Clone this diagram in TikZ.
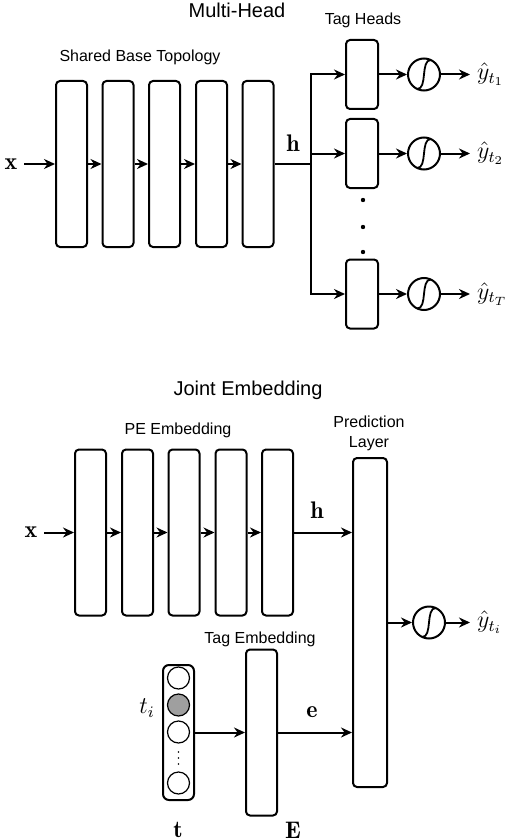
\documentclass[tikz,border=0pt]{standalone}
\usepackage{fontspec}
\newfontfamily\labelfont{Liberation Sans}
\usepackage{amsmath, amssymb}
\usepackage{tikz}
\usetikzlibrary{
  positioning,
  arrows.meta
}
\tikzset{
  layer/.style={draw, line width=1pt, rounded corners=2pt,
    minimum width=15.5pt, minimum height=83pt, inner sep=0pt},
  headbox/.style={layer, minimum width=16pt, minimum height=34.5pt},
  sigmoid/.style={circle, draw, line width=1pt, minimum size=16pt, inner sep=0pt,
    path picture={\draw[line width=0.9pt]
      ([xshift=-3.5pt,yshift=-7.3pt]path picture bounding box.center)
      .. controls +(5.5pt,0pt) and +(-5.5pt,0pt) ..
      ([xshift=3.5pt,yshift=7.3pt]path picture bounding box.center);}},
  conn/.style={line width=1pt, -{Stealth[length=5.5pt,width=5pt]}},
  paneltitle/.style={font=\labelfont\fontsize{10}{12}\selectfont},
  blocklabel/.style={font=\labelfont\fontsize{8}{10}\selectfont, align=center},
  onehot/.style={circle, draw, line width=0.6pt, minimum size=11pt, inner sep=0pt}
}

\begin{document}
\begin{tikzpicture}[x=0.5pt,y=-0.5pt]
  \useasboundingbox (0,0) rectangle (506,840);

  % Multi-Head 部分
  \node[paneltitle] (mhtitle) at (237,10) {Multi-Head};
  \node[blocklabel] (sbtlabel) at (140,57) {Shared Base Topology};
  \node[blocklabel] (thlabel) at (363,20) {Tag Heads};
  % 共享层
  \node[layer] (b1) at (71.5,164) {};
  \node[layer] (b2) at (118,164) {};
  \node[layer] (b3) at (164.5,164) {};
  \node[layer] (b4) at (211.5,164) {};
  \node[layer] (b5) at (258,164) {};
  \node (xa) at (11,164) {\large$\mathbf{x}$};
  \draw[conn] (xa) -- (b1);
  \draw[conn] (b1) -- (b2);
  \draw[conn] (b2) -- (b3);
  \draw[conn] (b3) -- (b4);
  \draw[conn] (b4) -- (b5);
  % 分支
  \coordinate (br) at (311,164);
  \draw[line width=1pt] (b5) -- (br);
  \node (ha) at (293,143) {\large$\mathbf{h}$};
  \node[headbox] (hd1) at (362,74.5) {};
  \node[headbox] (hd2) at (362,153.5) {};
  \node[headbox] (hd3) at (362,294) {};
  \draw[conn] (br) |- (hd1);
  \draw[conn] (br) |- (hd2);
  \draw[conn] (br) |- (hd3);
  \fill (363,200) circle (1.1pt);
  \fill (363,227) circle (1.1pt);
  \fill (363,252) circle (1.1pt);
  % 输出
  \node[sigmoid] (sg1) at (424,74.5) {};
  \node[sigmoid] (sg2) at (424,153.5) {};
  \node[sigmoid] (sg3) at (424,294) {};
  \node[anchor=west] (yo1) at (470,74.5) {\large$\hat{y}_{t_1}$};
  \node[anchor=west] (yo2) at (470,153.5) {\large$\hat{y}_{t_2}$};
  \node[anchor=west] (yo3) at (470,294) {\large$\hat{y}_{t_T}$};
  \draw[conn] (hd1) -- (sg1);
  \draw[conn] (hd2) -- (sg2);
  \draw[conn] (hd3) -- (sg3);
  \draw[conn] (sg1) -- (yo1);
  \draw[conn] (sg2) -- (yo2);
  \draw[conn] (sg3) -- (yo3);

  % Joint Embedding 部分
  \node[paneltitle] (jetitle) at (248,390) {Joint Embedding};
  \node[blocklabel] (pelabel) at (178,430) {PE Embedding};
  \node[blocklabel] (pllabel) at (369,433) {Prediction\\Layer};
  \node[blocklabel] (telabel) at (260,639) {Tag Embedding};
  % PE 层
  \node[layer] (p1) at (90.5,532.5) {};
  \node[layer] (p2) at (137.5,532.5) {};
  \node[layer] (p3) at (184,532.5) {};
  \node[layer] (p4) at (231,532.5) {};
  \node[layer] (p5) at (277.5,532.5) {};
  \node (xb) at (31,532.5) {\large$\mathbf{x}$};
  \draw[conn] (xb) -- (p1);
  \draw[conn] (p1) -- (p2);
  \draw[conn] (p2) -- (p3);
  \draw[conn] (p3) -- (p4);
  \draw[conn] (p4) -- (p5);
  % 预测层
  \node[layer, minimum width=17pt, minimum height=164.5pt] (pred) at (370,622.5) {};
  \draw[conn] (p5) -- (p5 -| pred.west);
  \node (hb) at (317,510) {\large$\mathbf{h}$};
  \node[sigmoid] (sgb) at (429,622.5) {};
  \node[anchor=west] (yob) at (470,622.5) {\large$\hat{y}_{t_i}$};
  \draw[conn] (pred) -- (sgb);
  \draw[conn] (sgb) -- (yob);
  % 标签嵌入
  \node[layer] (emb) at (261.5,732.5) {};
  \node[layer, rounded corners=3pt, minimum height=67.5pt] (tvec) at (178.5,732.5) {};
  \node[onehot] (c1) at (178.5,678) {};
  \node[onehot, fill=gray!75] (c2) at (178.5,705) {};
  \node[onehot] (c3) at (178.5,732) {};
  \node[onehot] (c4) at (178.5,783) {};
  \fill (178.5,752) circle (0.45pt);
  \fill (178.5,758) circle (0.45pt);
  \fill (178.5,764) circle (0.45pt);
  \node (ti) at (147,708) {\large$t_i$};
  \node (tl) at (178,830) {\large$\mathbf{t}$};
  \node (el) at (293,830) {\large$\mathbf{E}$};
  \draw[conn] (tvec) -- (emb);
  \draw[conn] (emb) -- (emb -| pred.west);
  \node (eb) at (312,712) {\large$\mathbf{e}$};
\end{tikzpicture}
\end{document}
